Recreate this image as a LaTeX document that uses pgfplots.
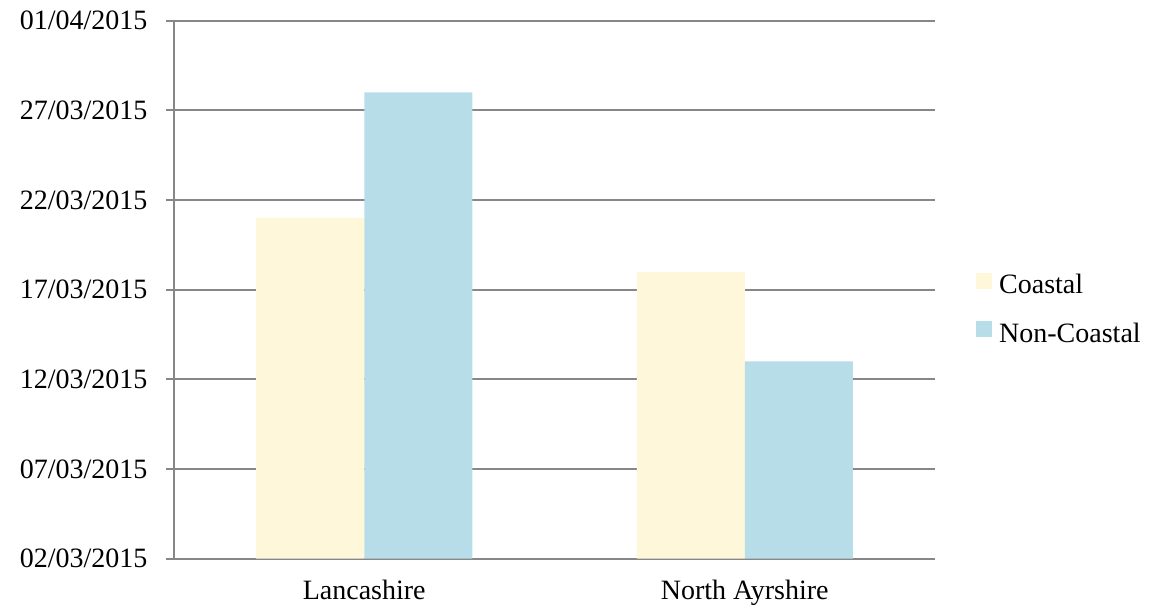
\documentclass[border=0pt]{standalone}
\usepackage{fontspec}
\setmainfont{Liberation Serif}
\usepackage{pgfplots}
\pgfplotsset{compat=1.18}

\definecolor{coastal}{HTML}{FEF7DA}
\definecolor{noncoastal}{HTML}{B7DDE8}
\definecolor{gridgray}{HTML}{878787}

\newcommand{\chartfont}{\fontsize{28pt}{34pt}\selectfont}

\begin{document}
\begin{tikzpicture}
\begin{axis}[
  name=ax,
  scale only axis,
  width=761pt, height=538pt,
  xmin=-0.5, xmax=1.5,
  ymin=0, ymax=30,
  ybar=0pt,
  bar width=108pt,
  axis line style={gridgray, line width=2pt},
  axis x line*=bottom,
  axis y line*=left,
  tick align=outside,
  major tick length=8pt,
  tick style={gridgray, line width=2pt},
  ytick={0,5,10,15,20,25,30},
  yticklabels={02/03/2015,07/03/2015,12/03/2015,17/03/2015,22/03/2015,27/03/2015,01/04/2015},
  ymajorgrids,
  grid style={gridgray, line width=2pt},
  xtick={0,1},
  xticklabels={Lancashire, North Ayrshire},
  xtick style={draw=none},
  extra x ticks={-0.5,0.5,1.5},
  extra x tick labels={},
  extra x tick style={grid=none, tick style={gridgray, line width=2pt}},
  tick label style={font=\chartfont, text=black},
  yticklabel style={xshift=-15pt},
  xticklabel style={yshift=-10pt},
  legend cell align=left,
  legend style={
    at={(rel axis cs:1,0.4654)}, anchor=west, xshift=41pt,
    draw=none, fill=none, font=\chartfont,
    inner sep=0pt, row sep=26pt,
    nodes={inner sep=0pt},
    /tikz/every odd column/.append style={column sep=7pt},
  },
  legend image code/.code={\fill[#1] (0pt,-4pt) rectangle (16pt,12pt);},
  clip=false,
]
% values are days after 02/03/2015
\addplot[fill=coastal, draw=none] coordinates {(0,19) (1,16)};
\addplot[fill=noncoastal, draw=none] coordinates {(0,26) (1,11)};
\legend{Coastal, Non-Coastal}
\end{axis}
\path ([shift={(-174pt,-51pt)}]ax.south west) rectangle ([shift={(218pt,20.7pt)}]ax.north east);
\end{tikzpicture}
\end{document}
